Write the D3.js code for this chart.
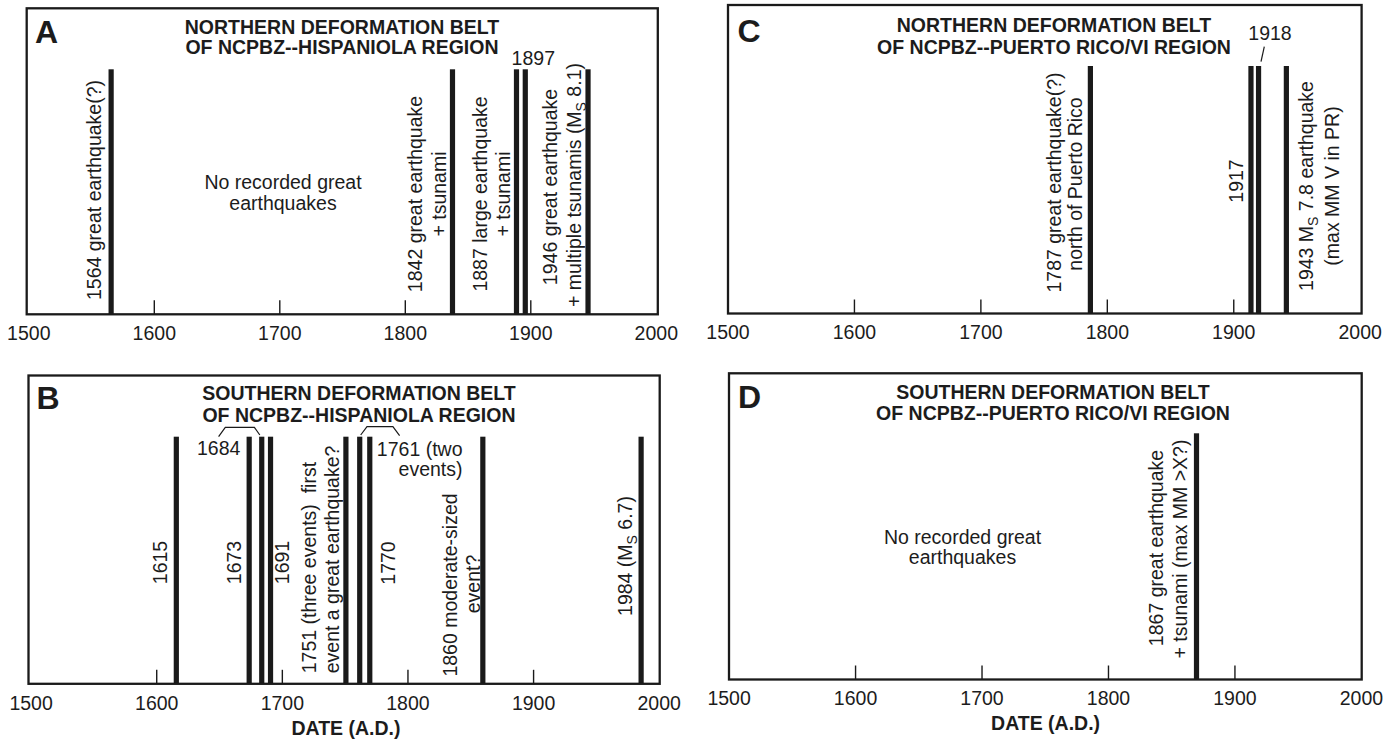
<!DOCTYPE html>
<html><head><meta charset="utf-8">
<script src="https://cdn.jsdelivr.net/npm/d3@7"></script>
<style>
html,body{margin:0;padding:0;background:#fff;}
svg{display:block;}
text{font-family:"Liberation Sans", Arial, Helvetica, sans-serif; fill:#1c1c1c;}
</style></head><body>
<svg id="chart" width="1398" height="740"></svg>
<script>
// ---------------- DATA ----------------
const axisYears = [1500, 1600, 1700, 1800, 1900, 2000];
const innerTickYears = [1600, 1700, 1800, 1900];
const panelLetters = ["A", "B", "C", "D"];
const panelTitles = [
  ["NORTHERN DEFORMATION BELT", "OF NCPBZ--HISPANIOLA REGION"],
  ["SOUTHERN DEFORMATION BELT", "OF NCPBZ--HISPANIOLA REGION"],
  ["NORTHERN DEFORMATION BELT", "OF NCPBZ--PUERTO RICO/VI REGION"],
  ["SOUTHERN DEFORMATION BELT", "OF NCPBZ--PUERTO RICO/VI REGION"]
];
const axisTitle = "DATE (A.D.)";
// event bar positions (years, as drawn)
const northHispYears = [1566, 1838, 1889, 1896, 1946];
const southHispYears = [1616, 1674, 1684, 1691, 1751, 1762, 1770, 1860, 1986];
const northPRYears = [1787, 1914, 1920, 1942];
const southPRYears = [1870];
// annotation texts ({S} = subscript)
const northHispNotes = [
  ["1564 great earthquake(?)"],
  ["1842 great earthquake", "+ tsunami"],
  ["1887 large earthquake", "+ tsunami"],
  ["1946 great earthquake", "+ multiple tsunamis (M{S} 8.1)"]
];
const northHispFlat = ["1897"];
const southHispNotes = [
  ["1615"], ["1673"], ["1691"],
  ["1751 (three events)  first", "event a great earthquake?"],
  ["1770"],
  ["1860 moderate-sized", "event?"],
  ["1984 (M{S} 6.7)"]
];
const southHispFlat = ["1684", "1761 (two", "events)"];
const northPRNotes = [
  ["1787 great earthquake(?)", "north of Puerto Rico"],
  ["1917"],
  ["1943 M{S} 7.8 earthquake", "(max MM V in PR)"]
];
const northPRFlat = ["1918"];
const southPRNotes = [["1867 great earthquake", "+ tsunami (max MM >X?)"]];
const noRecordText = ["No recorded great", "earthquakes"];

// ---------------- LAYOUT ----------------
const FS = 19.5;
const panels = [
  { years: northHispYears, frame: [26.7, 8.3, 657.8, 314.3], range: [28.3, 655.8], barTop: 69.3,
    titleX: 342, titleY: [26.7, 46.7], letter: [35, 43], xTitle: null },
  { years: southHispYears, frame: [28.5, 375.5, 659.7, 683.8], range: [30.6, 658.7], barTop: 436.7,
    titleX: 359, titleY: [393.3, 415], letter: [36.5, 409], xTitle: [346, 728.3] },
  { years: northPRYears, frame: [728, 5, 1361.6, 313.5], range: [727.5, 1359.7], barTop: 66,
    titleX: 1054, titleY: [25.5, 46.7], letter: [737.5, 42], xTitle: null },
  { years: southPRYears, frame: [729, 373.3, 1361.7, 679.5], range: [728.6, 1360.9], barTop: 433.3,
    titleX: 1053, titleY: [391.7, 413.3], letter: [738, 408], xTitle: [1045.6, 723.3] }
];
// rotated note placement: per line [x, y, anchor]
const notePos = [
  [ [[93.8, 190, "middle"]],
    [[415, 194, "middle"], [439.5, 194, "middle"]],
    [[479.8, 194, "middle"], [503.5, 194, "middle"]],
    [[550, 187, "middle"], [573.8, 185, "middle"]] ],
  [ [[160.6, 562.5, "middle"]], [[234.3, 562.5, "middle"]], [[282.5, 562.5, "middle"]],
    [[309.4, 673.3, "start"], [332.6, 673.3, "start"]],
    [[388.5, 563, "middle"]],
    [[450, 585, "middle"], [473.3, 584, "middle"]],
    [[625.5, 556, "middle"]] ],
  [ [[1053.9, 182.5, "middle"], [1075.4, 184, "middle"]],
    [[1236.4, 181, "middle"]],
    [[1306.6, 186, "middle"], [1332.5, 186, "middle"]] ],
  [ [[1156, 548, "middle"], [1179.8, 549, "middle"]] ]
];
const flatPos = [
  [[533.3, 58.3, "middle"]],
  [[218.7, 448, "middle"], [462.5, 449, "end"], [462.5, 469.3, "end"]],
  [[1270, 33, "middle"]],
  []
];
const noRecordPos = [[283, [181.7, 202.7]], null, null, [962.5, [536.7, 556.7]]];
const bracketPaths = [
  [], 
  [[[218.6, 436.7], [225.3, 427.3], [254.4, 427.3], [259.8, 435]],
   [[360.7, 435], [367, 426.7], [392.9, 426.7], [399.6, 435.7]]],
  [[[1264.3, 46.7], [1261, 61.7]]],
  []
];

const notesAll = [northHispNotes, southHispNotes, northPRNotes, southPRNotes];
const flatAll = [northHispFlat, southHispFlat, northPRFlat, []];

// ---------------- DRAW ----------------
const svg = d3.select("#chart");
const INK = "#1a1a1a";

function richText(sel, str) {
  const parts = str.split(/\{(.+?)\}/);
  parts.forEach((p, i) => {
    if (p === "") return;
    if (i % 2 === 1) {
      sel.append("tspan").attr("font-size", 14).attr("dy", 5).text(p);
    } else {
      const t = sel.append("tspan").text(p);
      if (i > 0) t.attr("dy", -5);
    }
  });
}

panels.forEach((P, pi) => {
  const g = svg.append("g");
  const [x0, y0, x1, y1] = P.frame;
  const x = d3.scaleLinear().domain([1500, 2000]).range(P.range);

  // bars
  g.selectAll("rect.bar").data(P.years).join("rect")
    .attr("class", "bar")
    .attr("x", d => x(d) - 2.6).attr("width", 5.2)
    .attr("y", P.barTop).attr("height", y1 - P.barTop)
    .attr("fill", INK);

  // inner ticks
  const tickAxis = d3.axisBottom(x).tickValues(innerTickYears).tickSize(-14).tickFormat("");
  const tg = g.append("g").attr("transform", `translate(0,${y1})`).call(tickAxis);
  tg.select(".domain").remove();
  tg.selectAll("line").attr("stroke", INK).attr("stroke-width", 1.4);

  // tick labels
  const labAxis = d3.axisBottom(x).tickValues(axisYears).tickSize(0).tickPadding(12).tickFormat(d3.format("d"));
  const lg = g.append("g").attr("transform", `translate(0,${y1})`).call(labAxis);
  lg.select(".domain").remove();
  lg.selectAll("text").attr("font-size", FS).attr("font-family", '"Liberation Sans", Arial, sans-serif').attr("fill", "#1c1c1c");

  // frame
  g.append("rect").attr("x", x0).attr("y", y0).attr("width", x1 - x0).attr("height", y1 - y0)
    .attr("fill", "none").attr("stroke", INK).attr("stroke-width", 2.3);

  // panel letter
  g.append("text").attr("x", P.letter[0]).attr("y", P.letter[1])
    .attr("font-size", 32).attr("font-weight", "bold").text(panelLetters[pi]);

  // title
  panelTitles[pi].forEach((t, i) => {
    g.append("text").attr("x", P.titleX).attr("y", P.titleY[i]).attr("dy", "0.35em")
      .attr("text-anchor", "middle").attr("font-size", FS).attr("font-weight", "bold").text(t);
  });

  // x title
  if (P.xTitle) {
    g.append("text").attr("x", P.xTitle[0]).attr("y", P.xTitle[1]).attr("dy", "0.35em")
      .attr("text-anchor", "middle").attr("font-size", FS).attr("font-weight", "bold").text(axisTitle);
  }

  // rotated notes
  notesAll[pi].forEach((lines, ni) => {
    lines.forEach((line, li) => {
      const [lx, ly, anc] = notePos[pi][ni][li];
      const t = g.append("text")
        .attr("transform", `translate(${lx},${ly}) rotate(-90)`)
        .attr("dy", "0.35em").attr("text-anchor", anc).attr("font-size", FS)
        .style("white-space", "pre");
      richText(t, line);
    });
  });

  // flat labels
  flatAll[pi].forEach((s, i) => {
    const [fx, fy, anc] = flatPos[pi][i];
    g.append("text").attr("x", fx).attr("y", fy).attr("dy", "0.35em")
      .attr("text-anchor", anc).attr("font-size", FS).text(s);
  });

  // no-record text
  if (noRecordPos[pi]) {
    const [nx, nys] = noRecordPos[pi];
    noRecordText.forEach((s, i) => {
      g.append("text").attr("x", nx).attr("y", nys[i]).attr("dy", "0.35em")
        .attr("text-anchor", "middle").attr("font-size", FS).text(s);
    });
  }

  // brackets / leaders
  const line = d3.line();
  bracketPaths[pi].forEach(pts => {
    g.append("path").attr("d", line(pts)).attr("fill", "none")
      .attr("stroke", INK).attr("stroke-width", 1.2);
  });
});
</script>
</body></html>
